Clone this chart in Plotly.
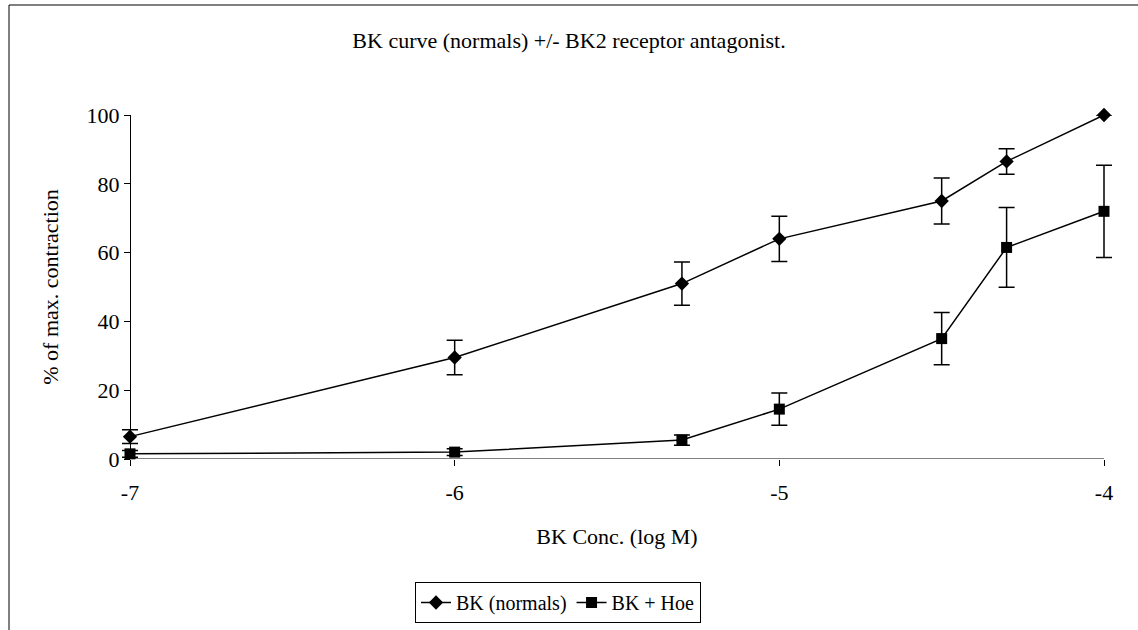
import plotly.graph_objects as go

x_conc = [-7, -6, -5.3, -5, -4.5, -4.3, -4]
bk_normals = [6.5, 29.5, 51, 64, 75, 86.5, 100]
bk_normals_err = [2, 5, 6.3, 6.6, 6.7, 3.7, 0]
bk_hoe = [1.5, 2, 5.5, 14.5, 35, 61.5, 72]
bk_hoe_err = [1, 1, 1.5, 4.7, 7.6, 11.6, 13.4]
x_ticks = [-7, -6, -5, -4]
y_ticks = [0, 20, 40, 60, 80, 100]

FONT = "Liberation Serif, Times New Roman, serif"
W, H = 1138, 630
L, R, T, B = 120, 24, 115, 171
pw, ph = W - L - R, H - T - B
x_min, x_max = -7, -4
pad = (3 * (pw) / 974 - 3) / 2  # keeps -7 at x=130px and -4 at x=1104px
xr = [x_min - pad, x_max + pad]

fig = go.Figure()
fig.add_trace(go.Scatter(
    x=x_conc, y=bk_normals, name="BK (normals)", mode="lines+markers",
    line=dict(color="black", width=1.5),
    marker=dict(symbol="diamond", size=11, color="black"),
    error_y=dict(type="data", array=bk_normals_err, color="black", thickness=1.5, width=8),
    cliponaxis=False))
fig.add_trace(go.Scatter(
    x=x_conc, y=bk_hoe, name="BK + Hoe", mode="lines+markers",
    line=dict(color="black", width=1.5),
    marker=dict(symbol="square", size=11, color="black"),
    error_y=dict(type="data", array=bk_hoe_err, color="black", thickness=1.5, width=8),
    cliponaxis=False))

def px2paper_x(px):
    return (px - L) / pw

def py2paper_y(py):
    return (H - B - py) / ph

fig.update_layout(
    width=W, height=H,
    margin=dict(l=L, r=R, t=T, b=B, autoexpand=False),
    paper_bgcolor="white", plot_bgcolor="white",
    font=dict(family=FONT, size=22, color="black"),
    title=dict(text="BK curve (normals) +/- BK2 receptor antagonist.",
               x=0.5, xanchor="center", y=1 - 40 / H, yanchor="middle",
               font=dict(family=FONT, size=22, color="black")),
    xaxis=dict(range=xr, tickvals=x_ticks, ticktext=[str(v) for v in x_ticks],
               showgrid=False, zeroline=False, showline=False, automargin=False,
               ticks="outside", ticklen=6, tickcolor="black", ticklabelstandoff=8,
               title=dict(text="BK Conc. (log M)", standoff=24, font=dict(family=FONT, size=22)),
               tickfont=dict(family=FONT, size=22)),
    yaxis=dict(range=[0, 100], tickvals=y_ticks, anchor="free", position=pad / (3 + 2 * pad),
               showgrid=False, zeroline=False, showline=True, linecolor="black", linewidth=1,
               ticks="outside", ticklen=6, tickcolor="black", automargin=False,
               title=dict(text="% of max. contraction", standoff=20, font=dict(family=FONT, size=22)),
               tickfont=dict(family=FONT, size=22)),
    legend=dict(orientation="h", x=px2paper_x(558), xanchor="center",
                y=py2paper_y(582), yanchor="top",
                bordercolor="black", borderwidth=1, bgcolor="white",
                font=dict(family=FONT, size=20), itemwidth=30),
    showlegend=True,
)

# x axis line from -7 to -4
fig.add_shape(type="line", xref="x", yref="y", x0=x_min, x1=x_max, y0=0, y1=0,
              line=dict(color="black", width=1), layer="below")

# outer frame lines
fig.add_shape(type="line", xref="paper", yref="paper",
              x0=px2paper_x(9), x1=px2paper_x(1138), y0=py2paper_y(5), y1=py2paper_y(5),
              line=dict(color="black", width=1))
fig.add_shape(type="line", xref="paper", yref="paper",
              x0=px2paper_x(9), x1=px2paper_x(9), y0=py2paper_y(5), y1=py2paper_y(630),
              line=dict(color="black", width=1))

fig.write_html("out.html")
